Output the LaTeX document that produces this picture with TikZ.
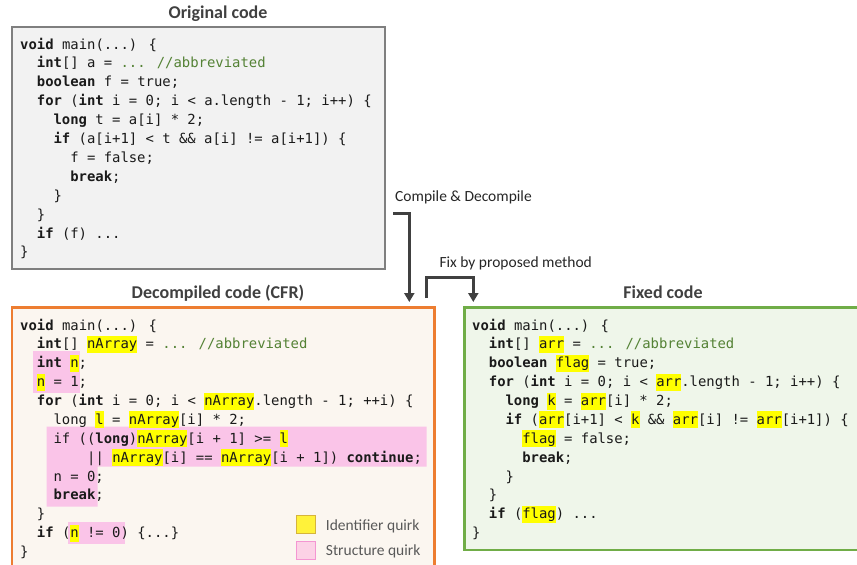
\documentclass[tikz,border=0pt]{standalone}
\usepackage{fontspec}
\setmainfont{Carlito}
\newfontfamily\codefont{DejaVu Sans Mono}
\usepackage{xcolor}
\usetikzlibrary{arrows.meta,backgrounds}
\pgfdeclarelayer{edgelayer}
\pgfdeclarelayer{nodelayer}
\pgfsetlayers{background,edgelayer,nodelayer,main}
\definecolor{boxgray}{RGB}{127,127,127}
\definecolor{fillgray}{RGB}{242,242,242}
\definecolor{cfrorange}{RGB}{237,125,49}
\definecolor{fillorange}{RGB}{251,246,240}
\definecolor{fixgreen}{RGB}{112,173,71}
\definecolor{fillgreen}{RGB}{239,246,234}
\definecolor{idyellow}{RGB}{255,255,0}
\definecolor{stpink}{RGB}{250,196,232}
\definecolor{keyyellow}{RGB}{255,242,58}
\definecolor{keygold}{RGB}{214,180,60}
\definecolor{keypink}{RGB}{252,210,230}
\definecolor{keypinkline}{RGB}{244,150,210}
\definecolor{cmtgreen}{RGB}{84,130,53}
\definecolor{arrowgray}{RGB}{64,64,64}
\definecolor{codeblack}{RGB}{26,26,26}
\definecolor{legendgray}{RGB}{89,89,89}
\newcommand{\kw}[1]{\textbf{#1}}
\newcommand{\cmt}[1]{\textcolor{cmtgreen}{#1}}
\newcommand{\idq}[1]{{\setlength{\fboxsep}{0pt}\colorbox{idyellow}{\rule[-4pt]{0pt}{17pt}#1}}}
\tikzstyle{none}=[inner sep=0pt]
\tikzstyle{codebox}=[shape=rectangle,inner sep=0pt]
\tikzstyle{codeline}=[inner sep=0pt,anchor=base west,text=codeblack,font=\codefont\fontsize{13.9}{16}\selectfont]
\tikzstyle{heading}=[inner sep=0pt,anchor=base,text=arrowgray,font=\fontsize{18}{20}\selectfont\bfseries]
\tikzstyle{note}=[inner sep=0pt,anchor=base west,text=black!85,font=\fontsize{15.5}{18}\selectfont]
\tikzstyle{keytext}=[inner sep=0pt,anchor=base west,text=legendgray,font=\fontsize{15.5}{18}\selectfont]
\tikzstyle{keyswatch}=[shape=rectangle,inner sep=0pt,minimum size=18.3pt,line width=1pt]
\tikzstyle{flow}=[line width=2.5pt,draw=arrowgray,-{Triangle[length=9pt,width=10pt]}]
\tikzstyle{quirk}=[fill=stpink,draw=none]

\begin{document}
\begin{tikzpicture}[x=1pt,y=-1pt]
	\useasboundingbox (0, 0) rectangle (857, 565);
	\begin{pgfonlayer}{background}
		\node [style=codebox, draw=boxgray, fill=fillgray, line width=2pt, minimum width=372.7pt, minimum height=241.7pt] (orig) at (198.65, 148.15) {};
		\node [style=codebox, draw=cfrorange, fill=fillorange, line width=2.5pt, minimum width=422.5pt, minimum height=282.7pt] (cfr) at (223.25, 448.65) {};
		\node [style=codebox, draw=fixgreen, fill=fillgreen, line width=2.5pt, minimum width=415.7pt, minimum height=242.3pt] (fixed) at (672.15, 428.85) {};
	\end{pgfonlayer}
	\begin{pgfonlayer}{nodelayer}
		% headings
		\node [style=heading] (h-orig) at (218, 18.3) {Original code};
		\node [style=heading] (h-cfr) at (218, 298.3) {Decompiled code (CFR)};
		\node [style=heading] (h-fixed) at (663, 298.3) {Fixed code};
		\node [style=note] (n-compile) at (395, 201.7) {Compile \& Decompile};
		\node [style=note] (n-fix) at (439.3, 267.7) {Fix by proposed method};
		% original code
		\node [style=codeline] (o1) at (20, 49) {\kw{void} main(...) \{};
		\node [style=codeline] (o2) at (36.7, 67.9) {\kw{int}[] a = \cmt{... //abbreviated}};
		\node [style=codeline] (o3) at (36.7, 86.8) {\kw{boolean} f = true;};
		\node [style=codeline] (o4) at (36.7, 105.7) {\kw{for} (\kw{int} i = 0; i < a.length - 1; i++) \{};
		\node [style=codeline] (o5) at (53.4, 124.6) {\kw{long} t = a[i] * 2;};
		\node [style=codeline] (o6) at (53.4, 143.5) {\kw{if} (a[i+1] < t \&\& a[i] != a[i+1]) \{};
		\node [style=codeline] (o7) at (70.1, 162.4) {f = false;};
		\node [style=codeline] (o8) at (70.1, 181.3) {\kw{break};};
		\node [style=codeline] (o9) at (53.4, 200.2) {\}};
		\node [style=codeline] (o10) at (36.7, 219.1) {\}};
		\node [style=codeline] (o11) at (36.7, 238) {\kw{if} (f) ...};
		\node [style=codeline] (o12) at (20, 256.9) {\}};
		% decompiled code
		\node [style=codeline] (d1) at (20, 330) {\kw{void} main(...) \{};
		\node [style=codeline] (d2) at (36.7, 348.9) {\kw{int}[] \idq{nArray} = \cmt{... //abbreviated}};
		\node [style=codeline] (d3) at (36.7, 367.7) {\kw{int} \idq{n};};
		\node [style=codeline] (d4) at (36.7, 386.6) {\idq{n} = 1;};
		\node [style=codeline] (d5) at (36.7, 405.5) {\kw{for} (\kw{int} i = 0; i < \idq{nArray}.length - 1; ++i) \{};
		\node [style=codeline] (d6) at (53.4, 424.4) {long \idq{l} = \idq{nArray}[i] * 2;};
		\node [style=codeline] (d7) at (53.4, 443.2) {if ((\kw{long})\idq{nArray}[i + 1] >= \idq{l}};
		\node [style=codeline] (d8) at (87, 462.1) {|| \idq{nArray}[i] == \idq{nArray}[i + 1]) \kw{continue};};
		\node [style=codeline] (d9) at (53.4, 481) {n = 0;};
		\node [style=codeline] (d10) at (53.4, 499.8) {\kw{break};};
		\node [style=codeline] (d11) at (36.7, 518.7) {\}};
		\node [style=codeline] (d12) at (36.7, 537.6) {\kw{if} (\idq{n} != 0) \{...\}};
		\node [style=codeline] (d13) at (20, 556.4) {\}};
		% fixed code
		\node [style=codeline] (f1) at (472, 330) {\kw{void} main(...) \{};
		\node [style=codeline] (f2) at (488.7, 348.9) {\kw{int}[] \idq{arr} = \cmt{... //abbreviated}};
		\node [style=codeline] (f3) at (488.7, 367.7) {\kw{boolean} \idq{flag} = true;};
		\node [style=codeline] (f4) at (488.7, 386.6) {\kw{for} (\kw{int} i = 0; i < \idq{arr}.length - 1; i++) \{};
		\node [style=codeline] (f5) at (505.4, 405.5) {\kw{long} \idq{k} = \idq{arr}[i] * 2;};
		\node [style=codeline] (f6) at (505.4, 424.4) {\kw{if} (\idq{arr}[i+1] < \idq{k} \&\& \idq{arr}[i] != \idq{arr}[i+1]) \{};
		\node [style=codeline] (f7) at (522.1, 443.2) {\idq{flag} = false;};
		\node [style=codeline] (f8) at (522.1, 462.1) {\kw{break};};
		\node [style=codeline] (f9) at (505.4, 481) {\}};
		\node [style=codeline] (f10) at (488.7, 499.8) {\}};
		\node [style=codeline] (f11) at (488.7, 518.7) {\kw{if} (\idq{flag}) ...};
		\node [style=codeline] (f12) at (472, 537.6) {\}};
		% legend
		\node [style=keyswatch, fill=keyyellow, draw=keygold] (k-id) at (305.85, 524.65) {};
		\node [style=keyswatch, fill=keypink, draw=keypinkline] (k-st) at (305.85, 550.15) {};
		\node [style=keytext] (kt-id) at (325.7, 530) {Identifier quirk};
		\node [style=keytext] (kt-st) at (325.7, 555.3) {Structure quirk};
		% arrow ends
		\coordinate (cd-start) at (393.3, 213.3);
		\coordinate (cd-end) at (409.3, 302);
		\coordinate (fx-start) at (426.7, 298);
		\coordinate (fx-top) at (450, 277.7);
		\coordinate (fx-end) at (473.3, 302);
	\end{pgfonlayer}
	\begin{pgfonlayer}{edgelayer}
		\fill [style=quirk] (33.3, 350.7) rectangle (80, 392.7);
		\fill [style=quirk] (46.7, 426.7) -- (426.7, 426.7) -- (426.7, 466.7) -- (97.7, 466.7) -- (97.7, 506.7) -- (46.7, 506.7) -- cycle;
		\fill [style=quirk] (68.3, 522) rectangle (125, 544.3);
		\draw [style=flow] (cd-start) -| (cd-end);
		\draw [style=flow] (fx-start) |- (fx-top) -| (fx-end);
	\end{pgfonlayer}
\end{tikzpicture}
\end{document}
